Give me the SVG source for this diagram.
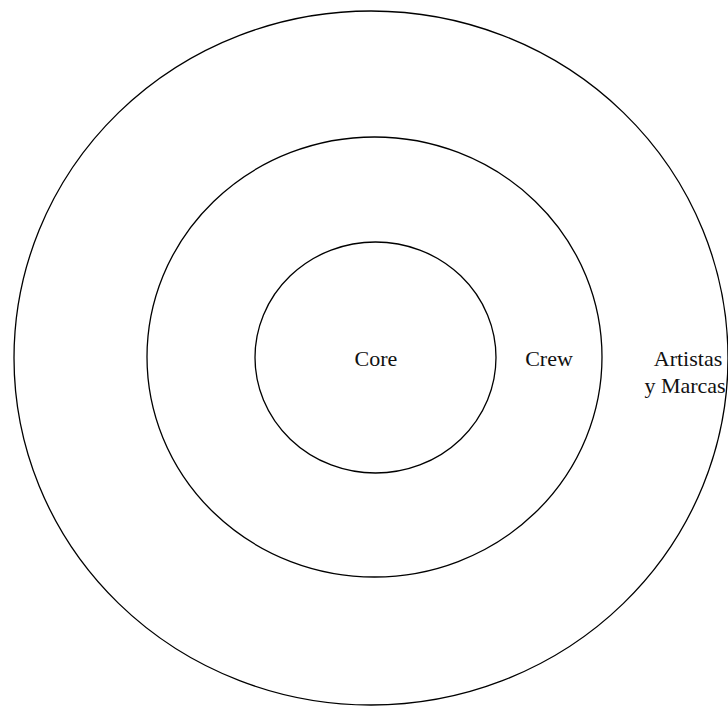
<svg xmlns="http://www.w3.org/2000/svg" width="728" height="709" viewBox="0 0 728 709">
<style>
.ring{fill:none;stroke:#000;stroke-width:1.3}
.lbl{font-family:"Liberation Serif","Times New Roman",serif;font-size:22px;fill:#111;text-anchor:middle}
</style>
<rect width="728" height="709" fill="#fff"/>
<g id="outer"><ellipse class="ring" cx="371" cy="358" rx="357" ry="347"/><text class="lbl" x="688" y="366">Artistas</text><text class="lbl" x="685" y="393">y Marcas</text></g>
<g id="crew"><ellipse class="ring" cx="374.5" cy="357" rx="227.5" ry="220"/><text class="lbl" x="549" y="366">Crew</text></g>
<g id="core"><ellipse class="ring" cx="375.5" cy="357.5" rx="120.5" ry="115.5"/><text class="lbl" x="376" y="366">Core</text></g>
<g id="connectors"></g>
</svg>
